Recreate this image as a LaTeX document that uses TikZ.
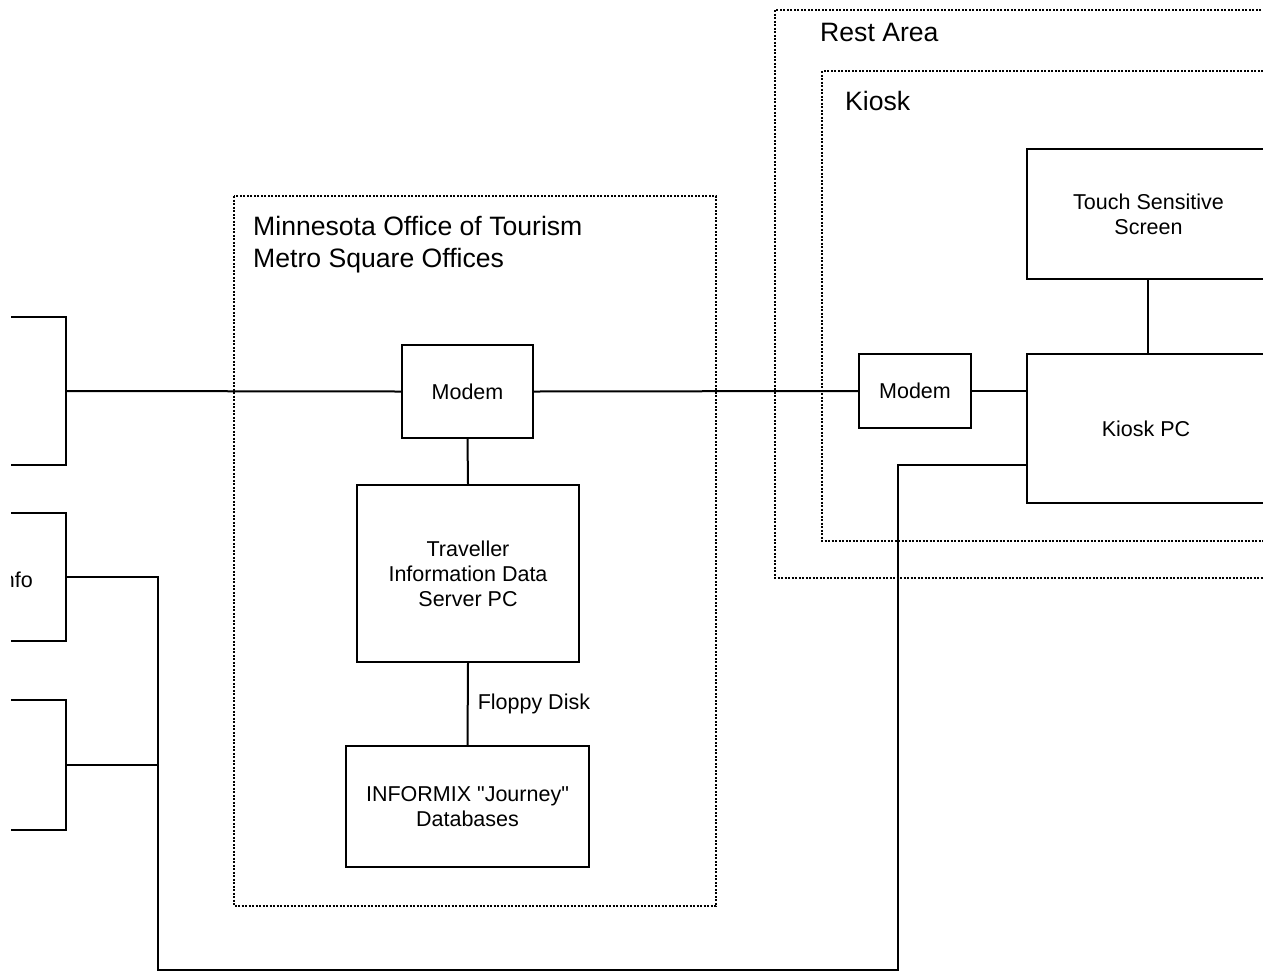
\documentclass[tikz,border=0pt]{standalone}
\usepackage{fontspec}
\setmainfont{Liberation Sans}
\begin{document}
\begin{tikzpicture}[x=1pt,y=-1pt,
  unit/.style={draw, line width=2pt, inner sep=0pt, align=center,
    font=\fontsize{21.5}{25}\selectfont},
  region/.style={draw, line width=1.8pt, dash pattern=on 2pt off 1.5pt},
  regiontitle/.style={inner sep=0pt, font=\fontsize{26.6}{32}\selectfont, align=left},
  wire/.style={line width=2pt},
  wirelabel/.style={inner sep=0pt, font=\fontsize{21.5}{25}\selectfont}]
\useasboundingbox (0,0) rectangle (1263,970);
\clip (0,0) rectangle (1263,970);

% enclosing regions
\draw[region] (234,196) rectangle (716,906);
\draw[region] (775,10) rectangle (1290,578);
\draw[region] (822,71) rectangle (1290,541);
\node[regiontitle, anchor=north west] (tourism) at (253,216) {Minnesota Office of Tourism\\Metro Square Offices};
\node[regiontitle, anchor=base west] (restarea) at (820,41) {Rest Area};
\node[regiontitle, anchor=base west] (kiosk) at (845,110) {Kiosk};

% sources on the left, cut off by the page margin
\begin{scope}
\clip (11,0) rectangle (200,970);
\node[unit, minimum width=126pt, minimum height=148pt] (srcA) at (3,391) {};
\node[unit, minimum width=126pt, minimum height=128pt] (srcB) at (3,577) {};
\node[wirelabel, anchor=base east] (srcBtext) at (33,587) {Info};
\node[unit, minimum width=126pt, minimum height=130pt] (srcC) at (3,765) {};
\end{scope}

% tourism office equipment
\node[unit, minimum width=131pt, minimum height=93pt] (modemA) at (467.5,391.5) {Modem};
\node[unit, minimum width=222pt, minimum height=177pt] (server) at (468,573.5) {Traveller\\Information Data\\Server PC};
\node[unit, minimum width=243pt, minimum height=121pt] (informix) at (467.5,806.5) {INFORMIX \textquotedbl Journey\textquotedbl\\Databases};

% kiosk equipment
\node[unit, minimum width=112pt, minimum height=74pt] (modemB) at (915,391) {Modem};
\node[unit, minimum width=238pt, minimum height=149pt] (kioskpc) at (1146,428.5) {Kiosk PC};
\node[unit, minimum width=243pt, minimum height=130pt] (touch) at (1148.5,214) {Touch Sensitive\\Screen};

% connections
\draw[wire] (srcA.east) -- (modemA.west);
\draw[wire] (modemA.east) -- (modemB.west);
\draw[wire] (modemB.east) -- (kioskpc.west |- modemB.east);
\draw[wire] (modemA.south) -- (server.north);
\draw[wire] (server.south) -- node[wirelabel, right=9pt] (floppy) {Floppy Disk} (informix.north);
\draw[wire] (touch.south -| 1148,0) -- (kioskpc.north -| 1148,0);

\coordinate (busTop) at (158,577);
\coordinate (busMid) at (158,765);
\coordinate (busLeft) at (158,969.5);
\coordinate (busRight) at (898,969.5);
\coordinate (busUp) at (898,465);
\draw[wire] (srcB.east) -- (busTop) -- (busLeft) -- (busRight) -- (busUp) -- (kioskpc.west |- busUp);
\draw[wire] (srcC.east) -- (busMid);
\end{tikzpicture}
\end{document}
